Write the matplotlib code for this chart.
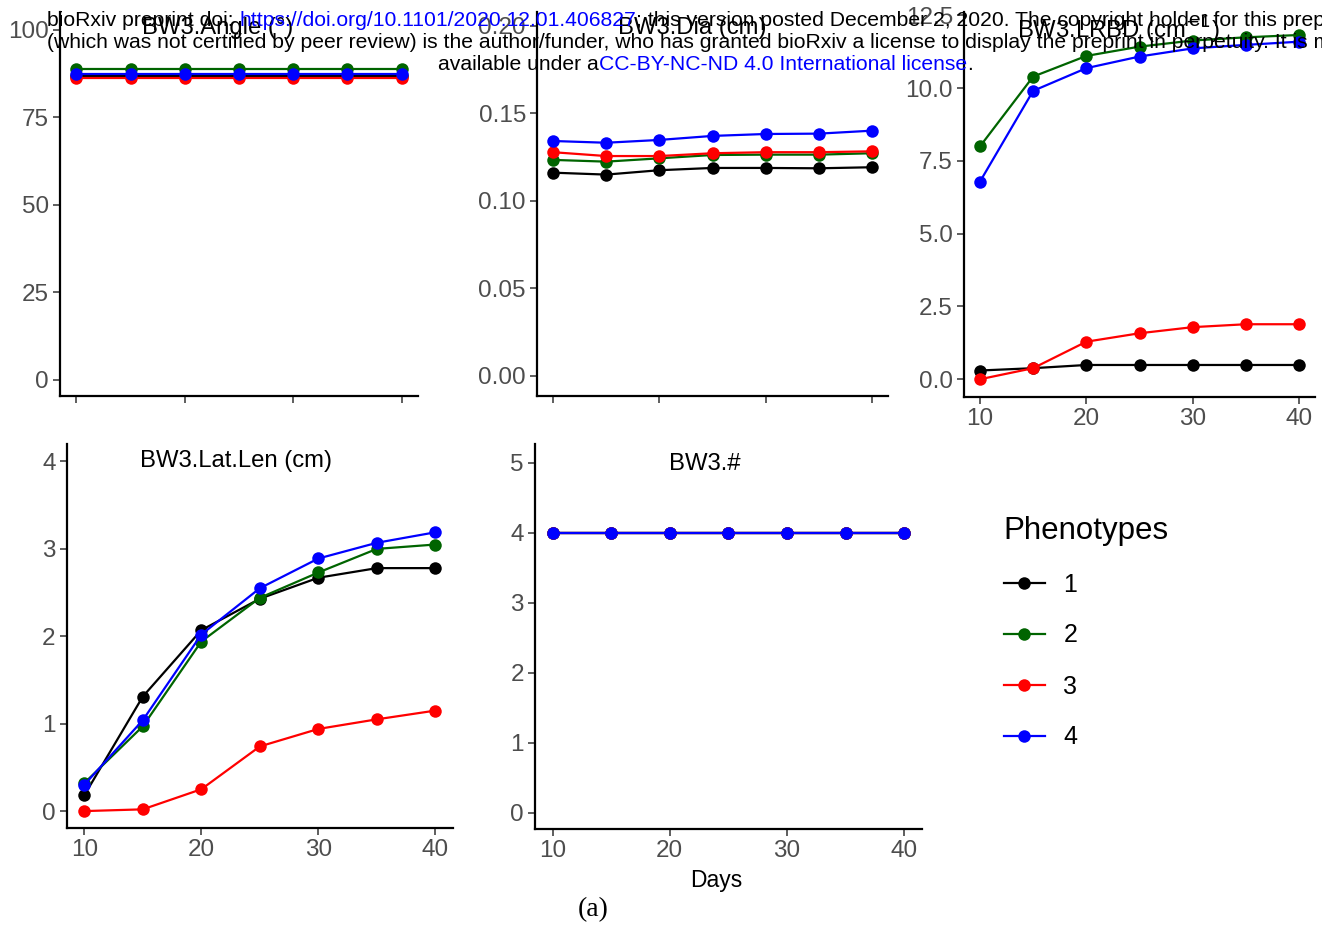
import matplotlib
matplotlib.use("Agg")
import matplotlib.pyplot as plt
from matplotlib.lines import Line2D

plt.rcParams['font.family'] = ['Liberation Sans', 'DejaVu Sans']

days = [10, 15, 20, 25, 30, 35, 40]
phenotypes = ['1', '2', '3', '4']
colors = ['black', '#006400', 'red', 'blue']

angle = {
    '1': [86.9] * 7,
    '2': [88.8] * 7,
    '3': [86.2] * 7,
    '4': [87.5] * 7,
}
dia = {
    '1': [0.1160, 0.1149, 0.1174, 0.1187, 0.1187, 0.1185, 0.1191],
    '2': [0.1233, 0.1223, 0.1242, 0.1261, 0.1263, 0.1263, 0.1271],
    '3': [0.1277, 0.1255, 0.1255, 0.1271, 0.1277, 0.1277, 0.1282],
    '4': [0.1341, 0.1331, 0.1347, 0.1370, 0.1381, 0.1383, 0.1400],
}
lrbd = {
    '1': [0.30, 0.38, 0.49, 0.49, 0.49, 0.49, 0.49],
    '2': [8.00, 10.40, 11.11, 11.43, 11.64, 11.75, 11.83],
    '3': [0.00, 0.38, 1.29, 1.58, 1.79, 1.89, 1.89],
    '4': [6.79, 9.91, 10.69, 11.09, 11.37, 11.49, 11.60],
}
latlen = {
    '1': [0.18, 1.31, 2.07, 2.43, 2.67, 2.78, 2.78],
    '2': [0.32, 0.97, 1.94, 2.44, 2.73, 3.00, 3.05],
    '3': [0.00, 0.02, 0.25, 0.74, 0.94, 1.05, 1.15],
    '4': [0.30, 1.04, 2.02, 2.55, 2.89, 3.07, 3.19],
}
count = {
    '1': [4, 4, 4, 4, 4, 4, 4],
    '2': [4, 4, 4, 4, 4, 4, 4],
    '3': [4, 4, 4, 4, 4, 4, 4],
    '4': [4, 4, 4, 4, 4, 4, 4],
}

W, H = 1322, 931
fig = plt.figure(figsize=(W / 100, H / 100), dpi=100)


def px_axes(x0, y0, x1, y1):
    return fig.add_axes([x0 / W, 1 - y1 / H, (x1 - x0) / W, (y1 - y0) / H])


panels = [
    # data, box, ylim, yticks, fmt, title, title pos, show xlabels
    (angle, (60, 12, 418, 396), (-4.6, 105.1), [0, 25, 50, 75, 100], '{:.0f}',
     'BW3.Angle (°)', (218, 28), False),
    (dia, (537, 12, 888, 396), (-0.0116, 0.2078), [0, 0.05, 0.10, 0.15, 0.20], '{:.2f}',
     'BW3.Dia (cm)', (692, 28), False),
    (lrbd, (964, 12, 1315, 396.7), (-0.6, 12.62), [0, 2.5, 5, 7.5, 10, 12.5], '{:.1f}',
     'BW3.LRBD (cm$^{-1}$)', (1118, 30), True),
    (latlen, (66.7, 444, 453, 827.7), (-0.19, 4.2), [0, 1, 2, 3, 4], '{:.0f}',
     'BW3.Lat.Len (cm)', (236, 461), True),
    (count, (535, 444, 921.7, 829.3), (-0.24, 5.27), [0, 1, 2, 3, 4, 5], '{:.0f}',
     'BW3.#', (705, 464), True),
]

for data, box, ylim, yticks, fmt, title, tpos, showx in panels:
    ax = px_axes(*box)
    for p, c in zip(phenotypes, colors):
        ax.plot(days, data[p], color=c, lw=1.6, marker='o', markersize=9,
                markeredgewidth=0, solid_capstyle='butt')
    ax.set_xlim(8.5, 41.5)
    ax.set_ylim(*ylim)
    ax.set_xticks([10, 20, 30, 40])
    ax.set_yticks(yticks)
    ax.set_yticklabels([fmt.format(v) for v in yticks])
    if not showx:
        ax.set_xticklabels([])
    for s in ['top', 'right']:
        ax.spines[s].set_visible(False)
    for s in ['left', 'bottom']:
        ax.spines[s].set_linewidth(1.6)
        ax.spines[s].set_color('black')
    ax.tick_params(axis='both', length=5, width=1.1, color='#333333',
                   labelsize=17.5, labelcolor='#4D4D4D', pad=3)
    ax.set_facecolor('none')
    fig.text(tpos[0] / W, 1 - tpos[1] / H, title, ha='center', va='center',
             fontsize=17.2, color='black')

fig.text(716 / W, 1 - 881 / H, 'Days', ha='center', va='center', fontsize=16.5)
fig.text(593 / W, 1 - 910 / H, '(a)', ha='center', va='center', fontsize=20,
         family=['Liberation Serif', 'DejaVu Serif'])

# legend
handles = [Line2D([0], [0], color=c, lw=1.6, marker='o', markersize=9,
                  markeredgewidth=0) for c in colors]
leg = fig.legend(handles, phenotypes, title='Phenotypes', loc='upper left',
                 bbox_to_anchor=(991 / W, 1 - 503 / H), frameon=False,
                 fontsize=18, title_fontsize=22.5, handlelength=1.65,
                 handletextpad=0.75, labelspacing=1.08, borderpad=0)
leg._legend_box.align = 'left'

# bioRxiv header
renderer = fig.canvas.get_renderer()


def chain(x, y, parts, fs=15.2):
    for txt, col in parts:
        t = fig.text(x / W, 1 - y / H, txt, color=col, fontsize=fs,
                     ha='left', va='center')
        bb = t.get_window_extent(renderer=renderer)
        x += bb.width


chain(47, 21, [('bioRxiv preprint doi: ', 'black'),
               ('https://doi.org/10.1101/2020.12.01.406827', 'blue'),
               ('; this version posted December 2, 2020. The copyright holder for this preprint', 'black')])
chain(47, 43, [('(which was not certified by peer review) is the author/funder, who has granted bioRxiv a license to display the preprint in perpetuity. It is made', 'black')])
chain(438, 65, [('available under a', 'black'),
                ('CC-BY-NC-ND 4.0 International license', 'blue'),
                ('.', 'black')])

fig.savefig('out.png', dpi=100)
